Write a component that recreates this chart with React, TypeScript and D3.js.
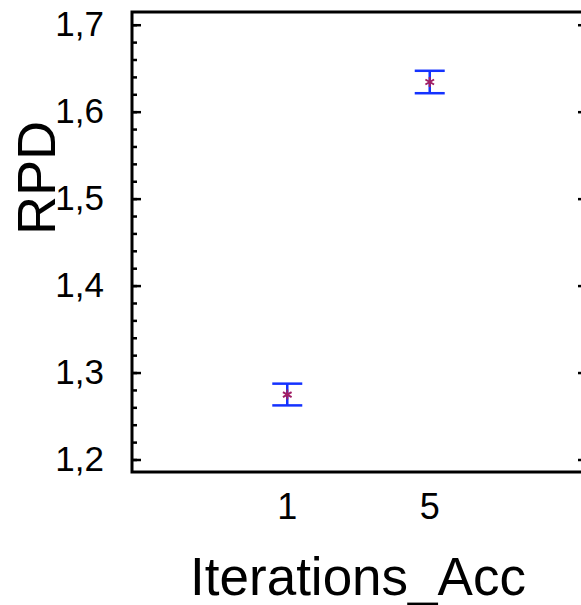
import React from "react";
import * as d3 from "d3";

const categories = ["1", "5"];
const means = [1.2753, 1.6347];
const errors = [0.0125, 0.0129];
const yTicks = [1.2, 1.3, 1.4, 1.5, 1.6, 1.7];

const W = 581;
const H = 605;
const left = 132;
const right = 585;
const top = 12;
const bottom = 472;

export default function App() {
  const x = d3.scaleLinear().domain([-1.09, 2.09]).range([left, right]);
  const y = d3.scaleLinear().domain([1.1862, 1.7152]).range([bottom, top]);
  const minor = d3.range(1.2, 1.7001, 0.02);
  const font = "Arial, 'Liberation Sans', sans-serif";
  const star = d3.symbol(d3.symbolAsterisk, 70)() as string;
  const fmt = (v: number) => v.toFixed(1).replace(".", ",");

  return (
    <svg width={W} height={H} style={{ position: "absolute", left: 0, top: 0, background: "#fff" }}>
      {/* minor ticks on the left axis */}
      {minor.map((v, i) => (
        <line key={"mn" + i} x1={left} x2={left + 5} y1={y(v)} y2={y(v)} stroke="#000" strokeWidth={2.5} />
      ))}
      {/* major ticks, inward on both sides */}
      {yTicks.map((v) => (
        <g key={"mj" + v}>
          <line x1={left} x2={left + 9} y1={y(v)} y2={y(v)} stroke="#000" strokeWidth={2.5} />
          <line x1={right - 7} x2={right} y1={y(v)} y2={y(v)} stroke="#000" strokeWidth={2.5} />
          <text x={104} y={y(v) + 11} textAnchor="end" fontFamily={font} fontSize={35} fill="#000">
            {fmt(v)}
          </text>
        </g>
      ))}
      {/* frame */}
      <rect x={left} y={top} width={right - left} height={bottom - top} fill="none" stroke="#000" strokeWidth={3} />
      {/* x tick labels */}
      {categories.map((c, i) => (
        <text key={"xt" + c} x={x(i)} y={519} textAnchor="middle" fontFamily={font} fontSize={36} fill="#000">
          {c}
        </text>
      ))}
      {/* error bars with mean markers */}
      {means.map((m, i) => {
        const cx = x(i);
        const y0 = y(m - errors[i]);
        const y1 = y(m + errors[i]);
        return (
          <g key={"eb" + i}>
            <line x1={cx} x2={cx} y1={y0} y2={y1} stroke="#1432ff" strokeWidth={2.5} />
            <line x1={cx - 15} x2={cx + 15} y1={y0} y2={y0} stroke="#1432ff" strokeWidth={2.5} />
            <line x1={cx - 15} x2={cx + 15} y1={y1} y2={y1} stroke="#1432ff" strokeWidth={2.5} />
            <path d={star} transform={`translate(${cx},${y(m)})`} fill="none" stroke="#a01e64" strokeWidth={2} />
          </g>
        );
      })}
      {/* axis titles */}
      <text x={358} y={595} textAnchor="middle" fontFamily={font} fontSize={53} fill="#000">
        Iterations_Acc
      </text>
      <text
        transform={`translate(55,178) rotate(-90)`}
        textAnchor="middle"
        fontFamily={font}
        fontSize={54}
        fill="#000"
      >
        RPD
      </text>
    </svg>
  );
}
